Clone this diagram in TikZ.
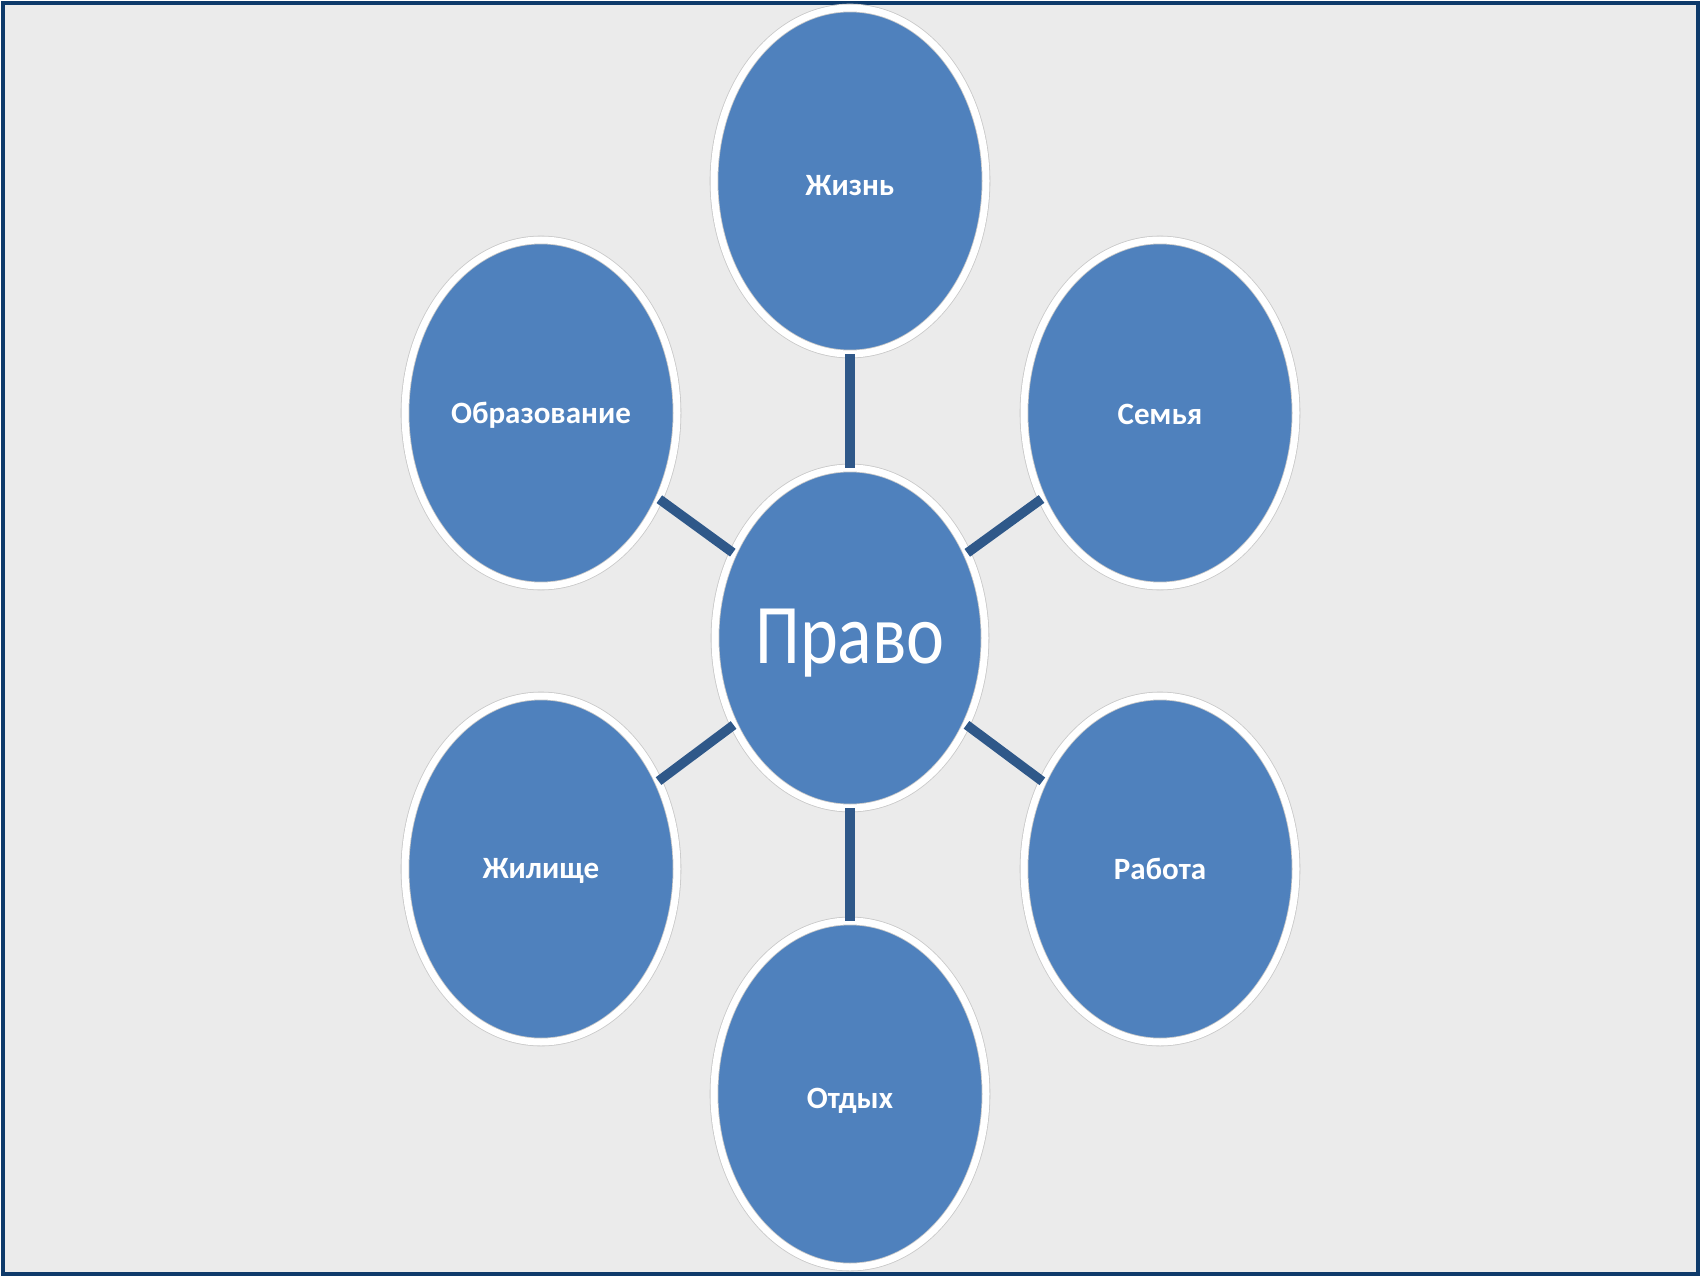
\documentclass[tikz,border=0pt]{standalone}
\usepackage{fontspec}
\setmainfont{Carlito}
\usetikzlibrary{shapes.geometric}
\definecolor{bgc}{HTML}{EBEBEB}
\definecolor{framec}{HTML}{0E3A6A}
\definecolor{fillc}{HTML}{4F81BD}
\definecolor{linec}{HTML}{2F5889}
\definecolor{ringc}{HTML}{C8C8C8}
\newcommand{\dnshift}[2]{\raisebox{-#1}[\height][\depth]{#2}}
\tikzset{
  bubble/.style={ellipse, fill=fillc, draw=ringc, line width=0.8pt, double=white, double distance=7pt,
    inner sep=0pt, minimum width=272pt, minimum height=346pt, text=white,
    font=\bfseries\fontsize{31}{37}\selectfont},
  hub/.style={bubble, minimum width=270pt, minimum height=340pt,
    font=\fontsize{72}{86}\selectfont},
  link/.style={draw=linec, line width=9.5pt}
}
\begin{document}
\begin{tikzpicture}[x=1pt,y=-1pt]
\useasboundingbox (0,0) rectangle (1701,1276);
\draw[framec, line width=3.5pt, fill=bgc] (3,3) rectangle (1698,1274);
\node[hub] (pravo) at (850,638) {\dnshift{5.5pt}{\scalebox{1}[1.18]{Право}}};
\node[bubble] (zhizn) at (850,181) {\dnshift{4.5pt}{Жизнь}};
\node[bubble] (semya) at (1160,413) {\dnshift{1pt}{Семья}};
\node[bubble] (obraz) at (541,413) {\dnshift{2pt}{Образование}};
\node[bubble] (zhil) at (541,869) {\dnshift{2pt}{Жилище}};
\node[bubble] (rabota) at (1160,869) {Работа};
\node[bubble] (otdyh) at (850,1094) {\dnshift{6.5pt}{Отдых}};
\draw[link] (pravo) -- (zhizn);
\draw[link] (pravo) -- (semya);
\draw[link] (pravo) -- (obraz);
\draw[link] (pravo) -- (zhil);
\draw[link] (pravo) -- (rabota);
\draw[link] (pravo) -- (otdyh);
\end{tikzpicture}
\end{document}
